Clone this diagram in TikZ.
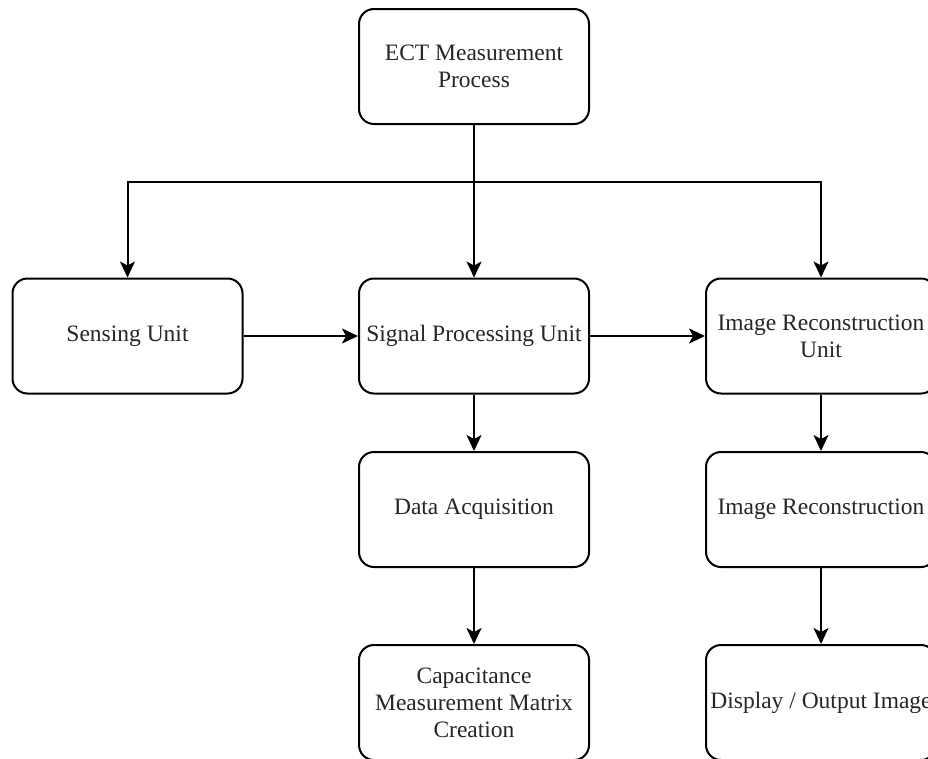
\documentclass[tikz,border=0pt]{standalone}
\usepackage{fontspec}
\setmainfont{Liberation Serif}
\usetikzlibrary{arrows.meta}
\tikzset{
  box/.style={draw=black, line width=2pt, rounded corners=15pt, minimum width=230pt, minimum height=115pt, align=center, inner sep=0pt, font=\fontsize{23.5}{27}\selectfont, text=black!85},
  conn/.style={line width=2pt, -{Stealth[length=16pt, width=15pt, inset=4pt]}}
}
\begin{document}
\begin{tikzpicture}[x=1pt, y=-1pt]
\clip (0,0) rectangle (928,758);
\fill[white] (0,0) rectangle (928,758);
\node[box] (ect) at (474,66.5) {ECT Measurement\\Process};
\node[box] (sense) at (127.5,336) {Sensing Unit};
\node[box] (sig) at (474,336) {Signal Processing Unit};
\node[box] (img) at (821,336) {Image Reconstruction\\Unit};
\node[box] (daq) at (474,509.5) {Data Acquisition};
\node[box] (rec) at (821,509.5) {Image Reconstruction};
\node[box] (cap) at (474,702.5) {Capacitance\\Measurement Matrix\\Creation};
\node[box] (disp) at (821,702.5) {Display / Output Image};
\coordinate (br) at (474,182);
\draw[conn] (ect) -- (sig);
\draw[conn] (br) -| (sense);
\draw[conn] (br) -| (img);
\draw[conn] (sense) -- (sig);
\draw[conn] (sig) -- (img);
\draw[conn] (sig) -- (daq);
\draw[conn] (daq) -- (cap);
\draw[conn] (img) -- (rec);
\draw[conn] (rec) -- (disp);
\end{tikzpicture}
\end{document}
